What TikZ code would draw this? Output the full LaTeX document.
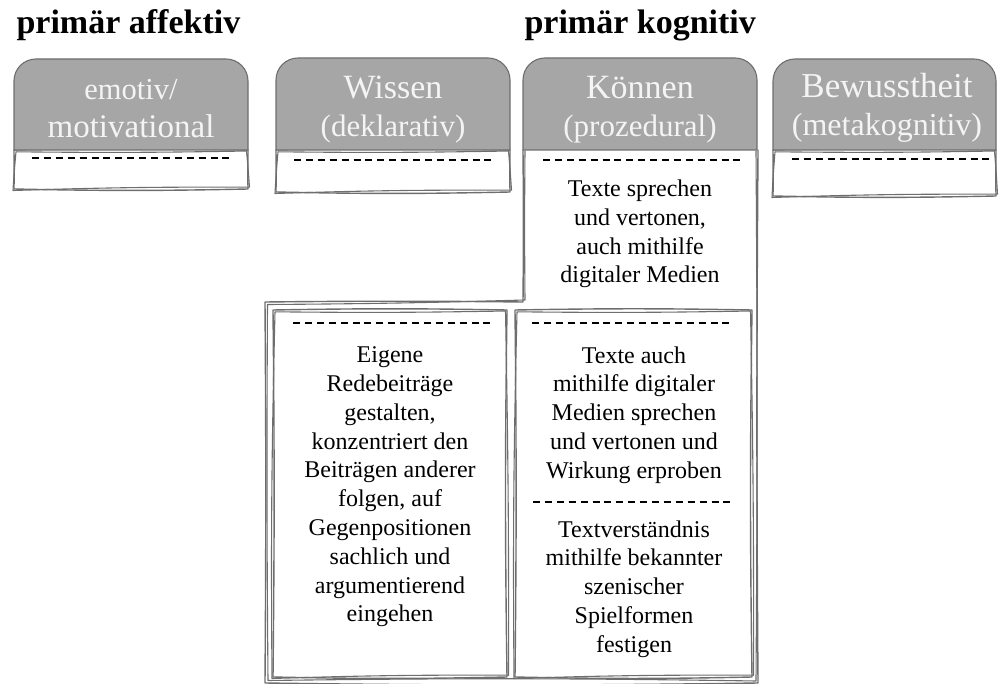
\documentclass[tikz,border=0pt]{standalone}
\usepackage{fontspec}
\setmainfont{Liberation Serif}
\definecolor{tabgray}{HTML}{A6A6A6}
\definecolor{edgegray}{HTML}{6E6E6E}
\definecolor{tabtext}{HTML}{F4F4F4}
\tikzset{
  sk/.style={draw=edgegray, line width=1.4pt, line join=round, line cap=round},
  sktwo/.style={draw=edgegray, line width=1.1pt, line join=round, line cap=round},
  tabshape/.style={fill=tabgray, draw=edgegray, line width=1.1pt},
  dashline/.style={draw=black, line width=1.5pt, dash pattern=on 7pt off 4.9pt},
  headtext/.style={text=tabtext, align=center, font=\fontsize{32}{38}\selectfont},
  bodytext/.style={text=black, align=center, font=\fontsize{24}{28.8}\selectfont},
  titletext/.style={text=black, anchor=west, font=\fontsize{34}{40}\selectfont\bfseries},
}
% hand-drawn box, drawn twice
\newcommand{\skbox}[4]{%
  \draw[sk] (#1,#2) to[bend left=1] (#3,#2) to[bend right=0.8] (#3,#4) to[bend left=1.2] (#1,#4) to[bend right=0.6] (#1,#2);
  \draw[sktwo] (#1+2,#2+1.8) to[bend right=0.8] (#3-1.5,#2+1) to[bend left=0.6] (#3+1.5,#4-1.8) to[bend right=1] (#1-1,#4+1.5) to[bend left=0.9] (#1+2,#2+1.8);
}
% tab with rounded top + white box below
\newcommand{\skcol}[5]{% x1, x2, top, bottom of gray, bottom of white
  \skbox{#1}{#4}{#2}{#5}
  \path[tabshape] (#1,#4) [rounded corners=22pt] -- (#1,#3) -- (#2,#3) [sharp corners] -- (#2,#4) -- cycle;
}
\begin{document}
\begin{tikzpicture}[x=1pt,y=-1pt]
\useasboundingbox (0,0) rectangle (999,684);

% titles
\node[titletext] (t1) at (13,25) {primär affektiv};
\node[titletext] (t2) at (521,25) {primär kognitiv};

% columns
\skcol{14}{248}{59}{150}{189}
\skcol{276}{510}{58}{150}{192}
\skcol{773}{996}{59}{150}{196}

% Können column merged with outer frame
\draw[sk] (523,150) to[bend left=0.5] (523,302) to[bend right=0.6] (265,302) to[bend left=0.4] (265,683) to[bend right=0.8] (758,683) to[bend left=0.4] (758,150);
\draw[sktwo] (525,151) to[bend right=0.5] (525,300) to[bend left=0.6] (267.5,304.5) to[bend right=0.4] (268,680.5) to[bend left=0.8] (756,681) to[bend right=0.4] (756,151);
\path[tabshape] (523,150) [rounded corners=22pt] -- (523,58) -- (757,58) [sharp corners] -- (757,150) -- cycle;

% inner boxes
\skbox{273}{310}{507}{677}
\skbox{515}{310}{752}{677}

% dashed lines (17 dashes each)
\draw[dashline] (32,158) -- +(197.5,0);
\draw[dashline] (294,160) -- +(197.5,0);
\draw[dashline] (543,160) -- +(197.5,0);
\draw[dashline] (792,159) -- +(197.5,0);
\draw[dashline] (293,323) -- +(197.5,0);
\draw[dashline] (532,323) -- +(197.5,0);
\draw[dashline] (533,502) -- +(197.5,0);

% header texts
\node[headtext] (h1) at (131,109) {\fontsize{30.5}{39}\selectfont emotiv/\\\fontsize{33}{39}\selectfont motivational};
\node[headtext] (h2) at (393,110) {\fontsize{34}{38}\selectfont Wissen\\\fontsize{31}{38}\selectfont (deklarativ)};
\node[headtext] (h3) at (640,110) {\fontsize{34}{38}\selectfont Können\\\fontsize{31}{38}\selectfont (prozedural)};
\node[headtext] (h4) at (887,108) {\fontsize{35}{38}\selectfont Bewusstheit\\\fontsize{32}{38}\selectfont (metakognitiv)};

% body texts
\node[bodytext] (k1) at (640,234) {Texte sprechen\\und vertonen,\\auch mithilfe\\digitaler Medien};
\node[bodytext] (w1) at (390,487) {Eigene\\Redebeiträge\\gestalten,\\konzentriert den\\Beiträgen anderer\\folgen, auf\\Gegenpositionen\\sachlich und\\argumentierend\\eingehen};
\node[bodytext] (k2) at (634,415) {Texte auch\\mithilfe digitaler\\Medien sprechen\\und vertonen und\\Wirkung erproben};
\node[bodytext] (k3) at (634,589) {Textverständnis\\mithilfe bekannter\\szenischer\\Spielformen\\festigen};
\end{tikzpicture}
\end{document}
